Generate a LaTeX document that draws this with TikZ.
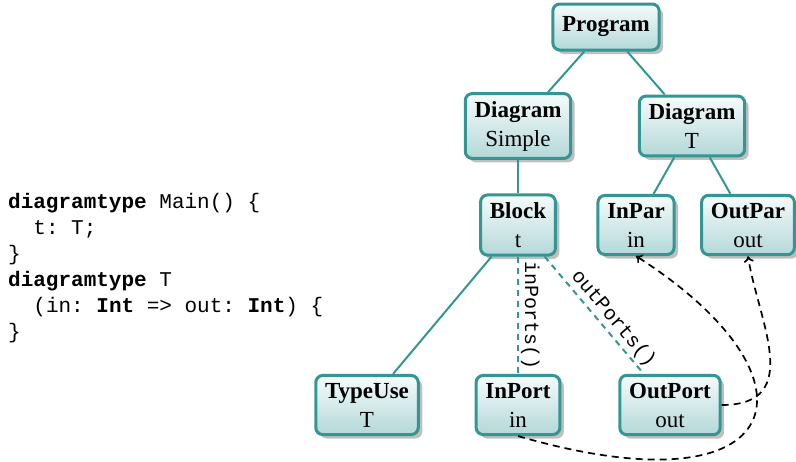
\documentclass[tikz,border=0pt]{standalone}
\usepackage{fontspec}
\setmainfont{Liberation Serif}
\setmonofont{Liberation Mono}
\usepackage{tikz}
\usepackage{xcolor}
\usetikzlibrary{arrows.meta, positioning, shadows}
\definecolor{tealline}{RGB}{52,150,148}
\definecolor{nodetop}{RGB}{246,251,251}
\definecolor{nodebot}{RGB}{180,216,216}
\tikzstyle{astnode}  = [rectangle, rounded corners=7pt, draw=tealline, line width=3pt,
                        top color=nodetop, bottom color=nodebot, align=center,
                        drop shadow={shadow xshift=4pt, shadow yshift=-4pt},
                        inner xsep=9.3pt, inner ysep=7.5pt, font=\fontsize{23}{29}\selectfont]
\tikzstyle{child}    = [draw=tealline, line width=2pt]
\tikzstyle{portedge} = [child, dash pattern=on 6pt off 5pt]
\tikzstyle{edgelabel} = [font=\ttfamily\fontsize{20}{24}\selectfont, sloped, above, inner sep=2pt]
\tikzstyle{dep}      = [-{To[length=6pt, width=10pt]}, line width=1.7pt, dash pattern=on 7pt off 5pt]
\tikzstyle{codetext} = [align=left, inner sep=0pt, font=\ttfamily\fontsize{21}{26}\selectfont]

\begin{document}
\begin{tikzpicture}[x=1pt, y=1pt, on grid]
    \useasboundingbox (0,0) rectangle (796,-461);

    % Source text
    \node (code) [codetext, anchor=north west] at (8,-193)
        {\textbf{diagramtype} Main() \{\\
         \hphantom{xx}t: T;\\
         \}\\
         \textbf{diagramtype} T\\
         \hphantom{xx}(in: \textbf{Int} => out: \textbf{Int}) \{\\
         \}};

    % Tree
    \node (prog) [astnode, minimum height=46pt] at (606,-27) {\textbf{Program}};
    \node (dsimple) [astnode, below left=99pt and 88pt of prog] {\textbf{Diagram}\\Simple};
    \node (dt) [astnode, below right=99pt and 86pt of prog] {\textbf{Diagram}\\T};
    \node (block) [astnode, below=99pt of dsimple] {\textbf{Block}\\t};
    \node (inpar) [astnode, right=118pt of block] {\textbf{InPar}\\in};
    \node (outpar) [astnode, right=112pt of inpar] {\textbf{OutPar}\\out};
    \node (inport) [astnode, below=180pt of block] {\textbf{InPort}\\in};
    \node (typeuse) [astnode, left=151pt of inport] {\textbf{TypeUse}\\T};
    \node (outport) [astnode, right=152pt of inport] {\textbf{OutPort}\\out};

    % Children
    \draw[child] (prog) -- (dsimple);
    \draw[child] (prog) -- (dt);
    \draw[child] (dsimple) -- (block);
    \draw[child] (dt) -- (inpar);
    \draw[child] (dt) -- (outpar);
    \draw[child] (block) -- (typeuse);

    % Ports
    \draw[portedge] (block) -- node[edgelabel] {inPorts()} (inport);
    \draw[portedge] (block) -- node[edgelabel, pos=0.6] {outPorts()} (outport);

    % Bindings
    \draw[dep] (inport.south) .. controls (790,-515) and (830,-380) .. (inpar.south);
    \draw[dep] (outport.east) .. controls (805,-405) and (758,-320) .. (outpar.south);
\end{tikzpicture}
\end{document}
